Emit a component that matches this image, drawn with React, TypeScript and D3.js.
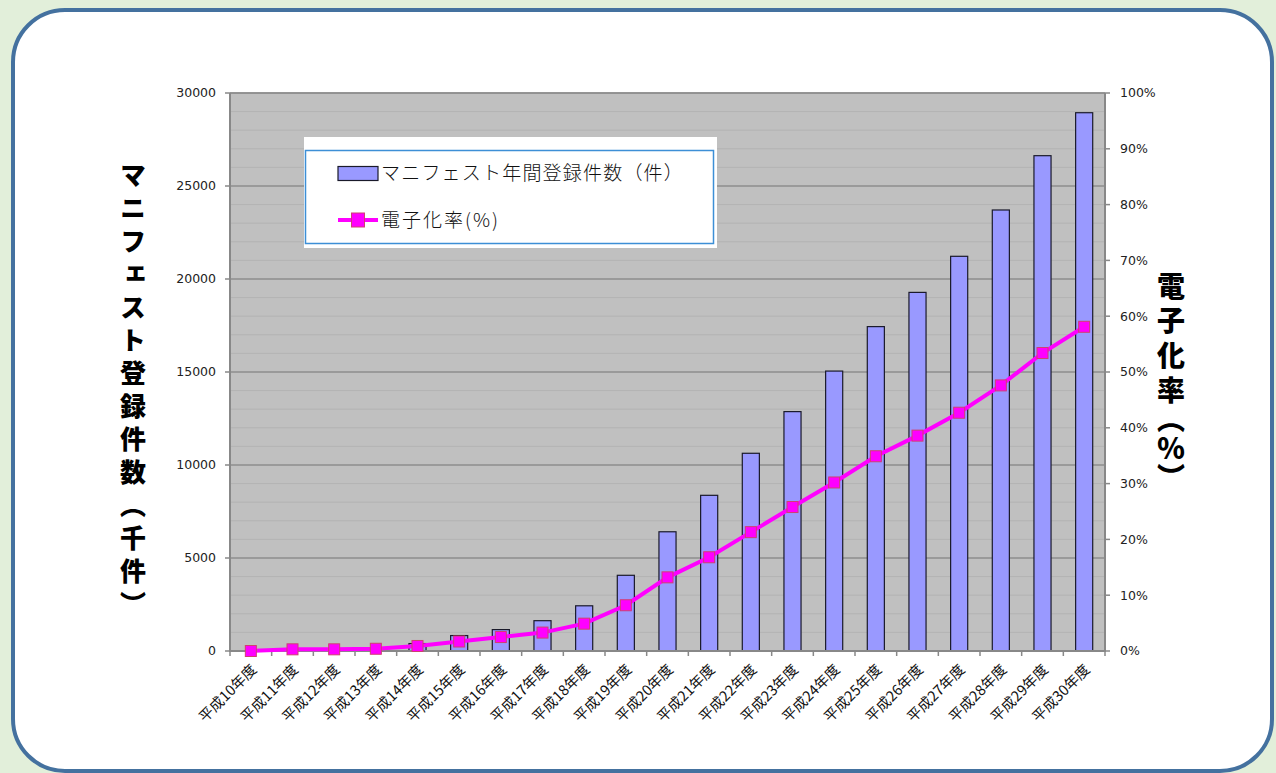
import React from "react";
import * as d3 from "d3";

const categories = [
  "平成10年度", "平成11年度", "平成12年度", "平成13年度", "平成14年度", "平成15年度", "平成16年度",
  "平成17年度", "平成18年度", "平成19年度", "平成20年度", "平成21年度", "平成22年度", "平成23年度",
  "平成24年度", "平成25年度", "平成26年度", "平成27年度", "平成28年度", "平成29年度", "平成30年度",
];
const registrations = [
  10, 40, 60, 120, 400, 830, 1150, 1630, 2430, 4070, 6410, 8370, 10630, 12870, 15050, 17440, 19280, 21220,
  23710, 26630, 28940,
];
const eRate = [
  0.0, 0.3, 0.3, 0.4, 0.9, 1.7, 2.5, 3.3, 4.9, 8.2, 13.2, 16.8, 21.3, 25.8, 30.2, 34.9, 38.6, 42.7, 47.6, 53.4, 58.1,
];
const leftTicks = [0, 5000, 10000, 15000, 20000, 25000, 30000];
const rightTicks = [0, 10, 20, 30, 40, 50, 60, 70, 80, 90, 100];
const barLegend = "マニフェスト年間登録件数（件）";
const lineLegend = "電子化率(%)";
const leftTitle = "マニフェスト登録件数（千件）";
const rightTitleA = "電子化";
const rightTitleB = "率（％）";

const W = 1276;
const H = 773;
const plot = { left: 230, right: 1105, top: 93, bottom: 651 };

export default function App() {
  const x = d3.scaleBand<string>().domain(categories).range([plot.left, plot.right]).padding(0);
  const y = d3.scaleLinear().domain([0, 30000]).range([plot.bottom, plot.top]);
  const yr = d3.scaleLinear().domain([0, 100]).range([plot.bottom, plot.top]);
  const bw = x.bandwidth() * 0.41;
  const minor = d3.range(1000, 30000, 1000).filter((v) => v % 5000 !== 0);
  const line = d3
    .line<number>()
    .x((_, i) => (x(categories[i]) as number) + x.bandwidth() / 2)
    .y((d) => yr(d));
  const jp = "'Noto Sans CJK JP', sans-serif";
  const num = "'DejaVu Sans', sans-serif";
  return (
    <svg width={W} height={H} style={{ position: "absolute", left: 0, top: 0 }}>
      <rect x={0} y={0} width={W} height={H} fill="#e2efda" />
      <rect x={13} y={10} width={1259} height={761} rx={52} ry={52} fill="#ffffff" stroke="#44719f" strokeWidth={4} />
      {/* plot area */}
      <rect x={plot.left} y={plot.top} width={plot.right - plot.left} height={plot.bottom - plot.top} fill="#c0c0c0" />
      {minor.map((v) => (
        <line key={"m" + v} x1={plot.left} x2={plot.right} y1={y(v)} y2={y(v)} stroke="#b3b3b3" strokeWidth={1} />
      ))}
      {leftTicks.map((v) => (
        <line key={"g" + v} x1={plot.left} x2={plot.right} y1={y(v)} y2={y(v)} stroke="#8e8e8e" strokeWidth={1.5} />
      ))}
      <line x1={plot.left} x2={plot.right} y1={plot.top} y2={plot.top} stroke="#8e8e8e" strokeWidth={1.5} />
      {/* bars */}
      {registrations.map((v, i) => {
        const cx = (x(categories[i]) as number) + x.bandwidth() / 2;
        return (
          <rect
            key={"b" + i}
            x={cx - bw / 2}
            y={y(v)}
            width={bw}
            height={plot.bottom - y(v)}
            fill="#9999ff"
            stroke="#1a1a2a"
            strokeWidth={1.2}
          />
        );
      })}
      {/* axes */}
      <line x1={plot.left} x2={plot.left} y1={plot.top} y2={plot.bottom + 1} stroke="#888" strokeWidth={2} />
      <line x1={plot.right} x2={plot.right} y1={plot.top} y2={plot.bottom + 1} stroke="#888" strokeWidth={2} />
      <line x1={plot.left} x2={plot.right} y1={plot.bottom} y2={plot.bottom} stroke="#888" strokeWidth={2} />
      {leftTicks.map((v) => (
        <g key={"lt" + v}>
          <line x1={plot.left - 5} x2={plot.left} y1={y(v)} y2={y(v)} stroke="#888" strokeWidth={1.5} />
          <text x={plot.left - 14} y={y(v)} dy="0.35em" textAnchor="end" fontFamily={num} fontSize={12.5} fill="#222">
            {v}
          </text>
        </g>
      ))}
      {rightTicks.map((v) => (
        <g key={"rt" + v}>
          <line x1={plot.right} x2={plot.right + 5} y1={yr(v)} y2={yr(v)} stroke="#888" strokeWidth={1.5} />
          <text x={plot.right + 15} y={yr(v)} dy="0.35em" textAnchor="start" fontFamily={num} fontSize={12.5} fill="#222">
            {v + "%"}
          </text>
        </g>
      ))}
      {categories.map((c, i) => {
        const x0 = x(c) as number;
        const cx = x0 + x.bandwidth() / 2;
        return (
          <g key={"c" + i}>
            <line x1={x0} x2={x0} y1={plot.bottom} y2={plot.bottom + 5} stroke="#888" strokeWidth={1.5} />
            <text
              transform={`translate(${cx + 3},${plot.bottom + 16}) rotate(-45)`}
              textAnchor="end"
              dy="0.35em"
              fontFamily={jp}
              fontSize={14.5}
              fill="#111"
            >
              {c}
            </text>
          </g>
        );
      })}
      <line x1={plot.right} x2={plot.right} y1={plot.bottom} y2={plot.bottom + 5} stroke="#888" strokeWidth={1.5} />
      {/* line series */}
      <path d={line(eRate) || ""} fill="none" stroke="#ff00ff" strokeWidth={4} />
      {eRate.map((v, i) => {
        const cx = (x(categories[i]) as number) + x.bandwidth() / 2;
        return (
          <rect key={"p" + i} x={cx - 5.5} y={yr(v) - 5.5} width={11} height={11} fill="#ff00ff" stroke="#d04070" strokeWidth={1} />
        );
      })}
      {/* legend */}
      <rect x={304} y={137} width={413} height={111} fill="#ffffff" />
      <rect x={305.5} y={150.5} width={408} height={93} fill="#ffffff" stroke="#3d8fd6" strokeWidth={1.5} />
      <rect x={338} y={166.5} width={40} height={14} fill="#9999ff" stroke="#1a1a2a" strokeWidth={1.2} />
      <text x={381} y={173.5} dy="0.36em" fontFamily={jp} fontSize={19} fontWeight={300} letterSpacing={1.2} fill="#111">
        {barLegend}
      </text>
      <line x1={338} x2={378} y1={220} y2={220} stroke="#ff00ff" strokeWidth={4} />
      <rect x={351.5} y={213} width={13} height={14} fill="#ff00ff" stroke="#d04070" strokeWidth={1} />
      <text x={381} y={220} dy="0.36em" fontFamily={jp} fontSize={19} fontWeight={300} letterSpacing={2} fill="#111">
        {lineLegend}
      </text>
      {/* axis titles */}
      <text
        x={133}
        y={162}
        style={{ writingMode: "vertical-rl" }}
        fontFamily={jp}
        fontSize={26}
        fontWeight={900}
        letterSpacing={7}
        fill="#000"
      >
        {leftTitle}
      </text>
      <text
        x={1171}
        y={272}
        style={{ writingMode: "vertical-rl" }}
        fontFamily={jp}
        fontSize={28}
        fontWeight={900}
        fill="#000"
      >
        <tspan letterSpacing={6.5}>{rightTitleA}</tspan>
        <tspan letterSpacing={1}>{rightTitleB}</tspan>
      </text>
    </svg>
  );
}
